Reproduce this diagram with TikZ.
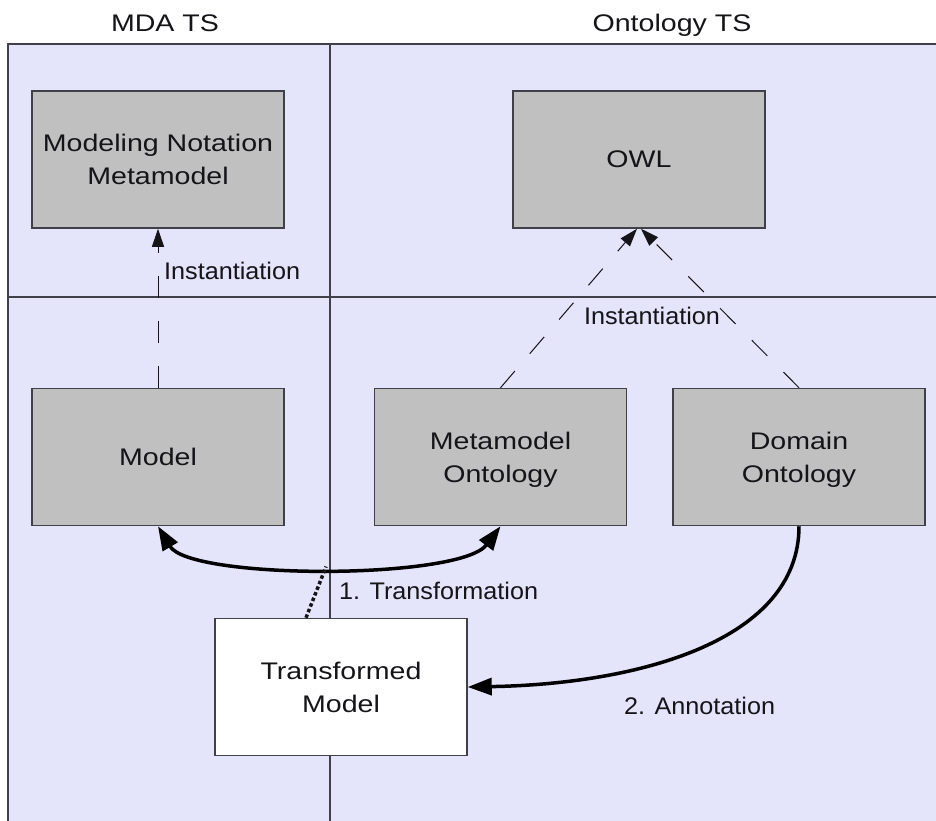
\documentclass[tikz,border=0pt]{standalone}
\usepackage{fontspec}
\setmainfont{Liberation Sans}
\newfontfamily\widefont{Liberation Sans}[FakeStretch=1.19]
\newfontfamily\labelfont{Liberation Sans}[FakeStretch=1.05]
\usetikzlibrary{arrows.meta,calc}

\definecolor{lane}{RGB}{228,228,250}
\definecolor{boxgray}{RGB}{192,192,192}
\definecolor{edge}{RGB}{64,64,72}
\definecolor{ink}{RGB}{20,20,25}

\begin{document}
\begin{tikzpicture}[x=1pt,y=-1pt,
  box/.style={draw=edge,line width=1.5pt,fill=boxgray,
    minimum width=252pt,minimum height=137pt,inner sep=0pt,
    align=center,text=ink,text depth=0pt,
    font=\widefont\fontsize{24}{33}\selectfont},
  title/.style={inner sep=0pt,text=ink,font=\widefont\fontsize{24}{28}\selectfont},
  lbl/.style={inner sep=0pt,text=ink,font=\labelfont\fontsize{24}{28}\selectfont},
  divider/.style={draw=edge,line width=1.5pt},
  inst/.style={draw=ink,line width=1pt,dash pattern=on 22pt off 23pt,
    -{Triangle[length=18pt,width=12pt]}},
  flow/.style={draw=black,line width=3.5pt},
  dotlink/.style={draw=ink,line width=3.5pt,dash pattern=on 3.5pt off 2.5pt},
  bigtip/.tip={Triangle[length=24pt,width=17pt]}
]
\clip (0,0) rectangle (936,820);
\fill[white] (0,0) rectangle (936,820);

% swimlane area with its two technical spaces and two levels
\draw[divider,fill=lane] (8,44) rectangle (950,830);
\draw[divider] (330,44) -- (330,830);
\draw[divider] (8,297) -- (950,297);

% lane titles
\node[title,anchor=base] (mda) at (165,31) {MDA TS};
\node[title,anchor=base] (ont) at (672,31) {Ontology TS};

% artefacts
\node[box] (mnm) at (158,159.5) {Modeling Notation\\Metamodel};
\node[box] (owl) at (639,159.5) {OWL};
\node[box] (model) at (158,457) {Model};
\node[box] (meta) at (500.5,457) {Metamodel\\Ontology};
\node[box] (dom) at (799,457) {Domain\\Ontology};

% instantiation links
\draw[inst] (model.north) -- (mnm.south);
\draw[inst] (meta.north) -- ($(owl.south)+(-2,0)$);
\draw[inst] (dom.north) -- ($(owl.south)+(2,0)$);
\node[lbl,anchor=west] (inst1) at (164,271) {Instantiation};
\node[lbl] (inst2) at (652,316) {Instantiation};

% step 1: transformation between model and metamodel ontology
\draw[flow,bigtip-bigtip] (model.south) .. controls (190,580) and (460,580) .. (meta.south)
  coordinate[pos=0.5] (tmid);

\node[box,fill=white] (trans) at (341,687) {Transformed\\Model};
\draw[dotlink] ($(trans.north)+(-35,0)$) -- (tmid);
\node[lbl,anchor=west] (ltr) at (339,591) {1. Transformation};

% step 2: annotation with the domain ontology
\draw[flow,-bigtip] (dom.south) .. controls (799,640) and (640,684) .. (trans.east);
\node[lbl,anchor=west] (lan) at (624,706) {2. Annotation};
\end{tikzpicture}
\end{document}
